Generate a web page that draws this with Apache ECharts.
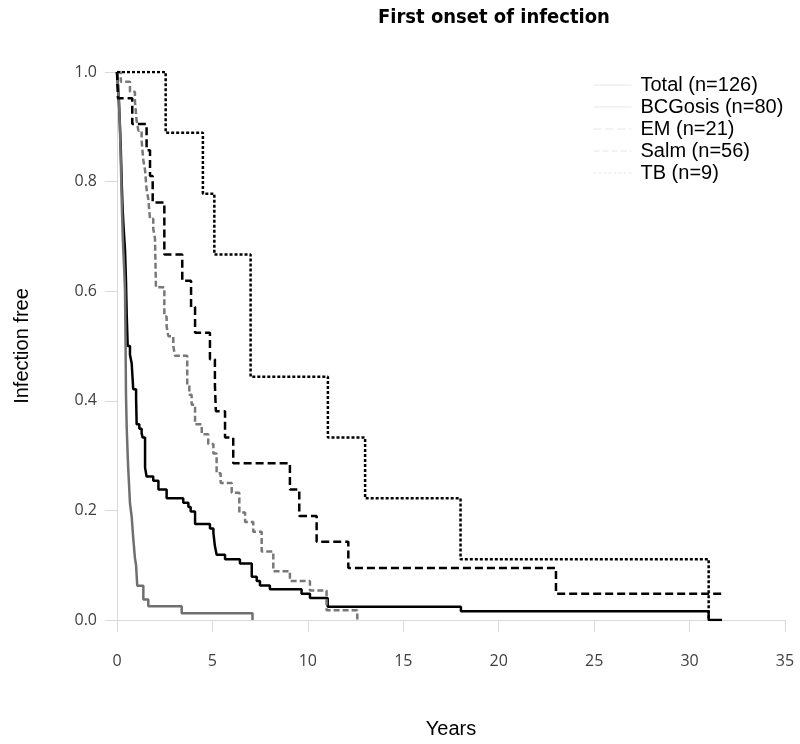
<!DOCTYPE html>
<html>
<head>
<meta charset="utf-8">
<script src="https://cdn.jsdelivr.net/npm/echarts@6/dist/echarts.min.js"></script>
<style>
  html, body { margin: 0; padding: 0; background: #fff; }
  #chart { width: 800px; height: 744px; }
</style>
</head>
<body>
<div id="chart"></div>
<script>
// Kaplan-Meier style steps: at each time the value drops to the listed level
var seriesNames = ['Total (n=126)', 'BCGosis (n=80)', 'EM (n=21)', 'Salm (n=56)', 'TB (n=9)'];

var totalTimes = [0, 0.05, 0.1, 0.15, 0.2, 0.25, 0.3, 0.35, 0.42, 0.47, 0.51, 0.56, 0.68, 0.77, 0.85, 1.0, 1.03, 1.17, 1.29,
  1.34, 1.47, 1.55, 1.9, 2.17, 2.6, 3.47, 3.74, 3.86, 4.09, 4.87, 5.05, 5.13, 5.22, 5.66, 6.44, 7.06, 7.32, 7.49, 8.01,
  9.67, 10.11, 11.04, 18.02, 31.0, 31.7];
var totalSurv = [1, 0.976, 0.944, 0.905, 0.857, 0.794, 0.746, 0.714, 0.675, 0.619, 0.556, 0.5, 0.484, 0.468, 0.421, 0.405, 0.357, 0.349, 0.341,
  0.333, 0.278, 0.262, 0.254, 0.238, 0.222, 0.214, 0.206, 0.198, 0.175, 0.167, 0.159, 0.135, 0.119, 0.111, 0.103, 0.079, 0.071, 0.063, 0.056,
  0.048, 0.040, 0.024, 0.016, 0, 0];

var bcgTimes = [0, 0.05, 0.1, 0.15, 0.2, 0.25, 0.3, 0.33, 0.38, 0.42, 0.45, 0.47, 0.51, 0.56, 0.59, 0.68, 0.77, 0.85, 0.94, 1.0,
  1.06, 1.38, 1.64, 3.39, 7.1];
var bcgSurv = [1, 0.975, 0.95, 0.9, 0.838, 0.763, 0.7, 0.675, 0.638, 0.6, 0.5, 0.413, 0.35, 0.3, 0.275, 0.213, 0.188, 0.15, 0.113, 0.1,
  0.0625, 0.0375, 0.025, 0.0125, 0];

var emTimes = [0, 0.05, 0.8, 1.55, 1.73, 1.87, 2.48, 3.42, 3.88, 4.09, 4.87, 5.13, 5.18, 5.66, 6.09, 9.06, 9.55, 10.46, 12.12, 23.0, 31.7];
var emSurv = [1, 0.952, 0.905, 0.857, 0.81, 0.762, 0.667, 0.619, 0.571, 0.524, 0.476, 0.429, 0.381, 0.333, 0.286, 0.238, 0.19, 0.143, 0.095, 0.048, 0.048];

var salmTimes = [0, 0.2, 0.68, 0.94, 1.03, 1.12, 1.29, 1.38, 1.47, 1.55, 1.64, 1.73, 1.9, 1.99, 2.04, 2.48, 2.6, 2.69, 2.95, 3.04,
  3.68, 3.79, 3.91, 4.09, 4.44, 4.78, 5.05, 5.22, 5.43, 6.01, 6.41, 6.71, 7.14, 7.58, 8.19, 9.06, 10.11, 10.98, 12.59];
var salmSurv = [1, 0.982, 0.964, 0.946, 0.911, 0.893, 0.875, 0.839, 0.821, 0.786, 0.768, 0.732, 0.714, 0.696, 0.607, 0.554, 0.536, 0.518, 0.5, 0.482,
  0.429, 0.411, 0.393, 0.357, 0.339, 0.321, 0.304, 0.268, 0.25, 0.232, 0.196, 0.179, 0.161, 0.125, 0.089, 0.071, 0.054, 0.018, 0];

var tbTimes = [0, 2.55, 4.5, 5.1, 7.0, 11.05, 13.0, 18.0, 31.0];
var tbSurv = [1, 0.889, 0.778, 0.667, 0.444, 0.333, 0.222, 0.111, 0];

var xTicks = [0, 5, 10, 15, 20, 25, 30, 35];

function pairs(ts, vs) {
  return ts.map(function (t, i) { return [t, vs[i]]; });
}

var styles = [
  { color: '#000000', type: 'solid' },
  { color: '#6f6f6f', type: 'solid' },
  { color: '#000000', type: [8, 4] },
  { color: '#787878', type: [6, 3] },
  { color: '#000000', type: [3, 2] }
];
var dataSets = [
  pairs(totalTimes, totalSurv),
  pairs(bcgTimes, bcgSurv),
  pairs(emTimes, emSurv),
  pairs(salmTimes, salmSurv),
  pairs(tbTimes, tbSurv)
];

var chart = echarts.init(document.getElementById('chart'));
var axisGray = '#d9d9d9';
var labelFont = "'Open Sans', 'DejaVu Sans', sans-serif";

chart.setOption({
  animation: false,
  backgroundColor: '#fff',
  title: {
    text: 'First onset of infection',
    left: 373,
    top: 3,
    textStyle: {
      fontFamily: "'Liberation Sans Narrow', 'DejaVu Sans Condensed', sans-serif",
      fontWeight: 'bold',
      fontSize: 20,
      color: '#000'
    }
  },
  legend: {
    orient: 'vertical',
    left: 588,
    top: 70,
    itemWidth: 38,
    itemHeight: 14,
    itemGap: 2,
    data: seriesNames,
    lineStyle: { color: '#e6e6e6', width: 1 },
    itemStyle: { opacity: 0 },
    textStyle: {
      fontFamily: "'Liberation Sans', Arial, sans-serif",
      fontSize: 20,
      lineHeight: 20,
      color: '#000',
      padding: [0, 0, 0, 4]
    }
  },
  grid: { left: 117, right: 15, top: 72, bottom: 118 },
  xAxis: {
    type: 'value',
    min: 0,
    max: 35,
    interval: 5,
    name: 'Years',
    nameLocation: 'middle',
    nameGap: 99,
    nameTextStyle: { fontFamily: "'Liberation Sans', Arial, sans-serif", fontSize: 20, color: '#000' },
    axisLine: { lineStyle: { color: axisGray } },
    axisTick: { length: 12, lineStyle: { color: axisGray } },
    axisLabel: { margin: 33, fontFamily: labelFont, fontSize: 16, color: '#404040',
      customValues: xTicks },
    splitLine: { show: false }
  },
  yAxis: {
    type: 'value',
    min: 0,
    max: 1,
    interval: 0.2,
    name: 'Infection free',
    nameLocation: 'middle',
    nameGap: 85,
    nameTextStyle: { fontFamily: "'Liberation Sans', Arial, sans-serif", fontSize: 20, color: '#000' },
    axisLine: { show: true, lineStyle: { color: axisGray } },
    axisTick: { show: true, length: 12, lineStyle: { color: axisGray } },
    axisLabel: { margin: 20, fontFamily: labelFont, fontSize: 16, color: '#404040',
      formatter: function (v) { return v.toFixed(1); } },
    splitLine: { show: false }
  },
  series: seriesNames.map(function (name, i) {
    return {
      name: name,
      type: 'line',
      step: 'end',
      symbol: 'none',
      data: dataSets[i],
      color: styles[i].color,
      lineStyle: { color: styles[i].color, width: 2.5, type: styles[i].type }
    };
  })
});
</script>
</body>
</html>
